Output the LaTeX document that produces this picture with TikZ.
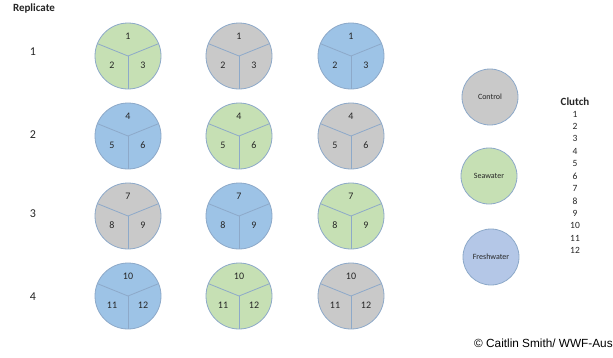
\documentclass[tikz,border=0pt]{standalone}
\usepackage{fontspec}
\setmainfont{Carlito}
\newfontfamily\arialf{Liberation Sans}
\definecolor{cgreen}{HTML}{C6E0B4}
\definecolor{cblue}{HTML}{9DC3E6}
\definecolor{cgray}{HTML}{C9C9C9}
\definecolor{cfresh}{HTML}{B4C7E7}
\definecolor{cline}{HTML}{8DA9C9}
\definecolor{ctext}{HTML}{262626}
\tikzset{
  platebox/.style={circle, draw=cline, line width=0.8pt, minimum size=66pt, inner sep=0pt},
  legbox/.style={circle, draw=cline, line width=0.8pt, minimum size=56pt, inner sep=0pt, font=\fontsize{8}{9}\selectfont, text=ctext},
  divider/.style={draw=cline, line width=0.8pt},
  numtxt/.style={font=\fontsize{10}{12}\selectfont, text=ctext, inner sep=0pt},
  rowtxt/.style={font=\fontsize{12}{14}\selectfont, text=ctext, inner sep=0pt},
  headtxt/.style={font=\bfseries\fontsize{11}{13}\selectfont, text=ctext, inner sep=0pt},
  cltxt/.style={font=\fontsize{9.5}{11}\selectfont, text=ctext, inner sep=0pt}
}
\newcommand\mkplate[7]{%
  \node[platebox, fill=#4] (#1) at (#2,#3) {};
  \draw[divider] (#1.center) -- (#1.158);
  \draw[divider] (#1.center) -- (#1.22);
  \draw[divider] (#1.center) -- (#1.270);
  \node[numtxt] (#1a) at ([yshift=20pt]#1.center) {#5};
  \node[numtxt] (#1b) at ([xshift=-16pt,yshift=-9pt]#1.center) {#6};
  \node[numtxt] (#1c) at ([xshift=15pt,yshift=-9pt]#1.center) {#7};
}
\begin{document}
\begin{tikzpicture}[x=1pt,y=-1pt]
\useasboundingbox[fill=white] (0,0) rectangle (613,357);
\node[headtxt] (rep) at (34,9) {Replicate};
\node[rowtxt] (r1) at (33,52) {1};
\node[rowtxt] (r2) at (33,135) {2};
\node[rowtxt] (r3) at (33,214) {3};
\node[rowtxt] (r4) at (33,297) {4};
% row 1
\mkplate{p11}{128}{56}{cgreen}{1}{2}{3}
\mkplate{p12}{239}{56}{cgray}{1}{2}{3}
\mkplate{p13}{351}{56}{cblue}{1}{2}{3}
% row 2
\mkplate{p21}{128}{136}{cblue}{4}{5}{6}
\mkplate{p22}{239}{136}{cgreen}{4}{5}{6}
\mkplate{p23}{351}{136}{cgray}{4}{5}{6}
% row 3
\mkplate{p31}{128}{216}{cgray}{7}{8}{9}
\mkplate{p32}{239}{216}{cblue}{7}{8}{9}
\mkplate{p33}{351}{216}{cgreen}{7}{8}{9}
% row 4
\mkplate{p41}{128}{296}{cblue}{10}{11}{12}
\mkplate{p42}{239}{296}{cgreen}{10}{11}{12}
\mkplate{p43}{351}{296}{cgray}{10}{11}{12}
% legend
\node[legbox, fill=cgray] (lc) at (490,97) {Control};
\node[legbox, fill=cgreen] (ls) at (489,176) {Seawater};
\node[legbox, fill=cfresh] (lf) at (491,257) {Freshwater};
% clutch list
\node[headtxt] (cl) at (575,101.5) {Clutch};
\foreach \i in {1,...,12}{
  \node[cltxt] (c\i) at (575,{114+(\i-1)*12.4}) {\i};
}
\node[anchor=west, inner sep=0pt, font=\arialf\fontsize{11.8}{13}\selectfont, text=black] (copy) at (474,343) {© Caitlin Smith/ WWF-Aus};
\end{tikzpicture}
\end{document}
